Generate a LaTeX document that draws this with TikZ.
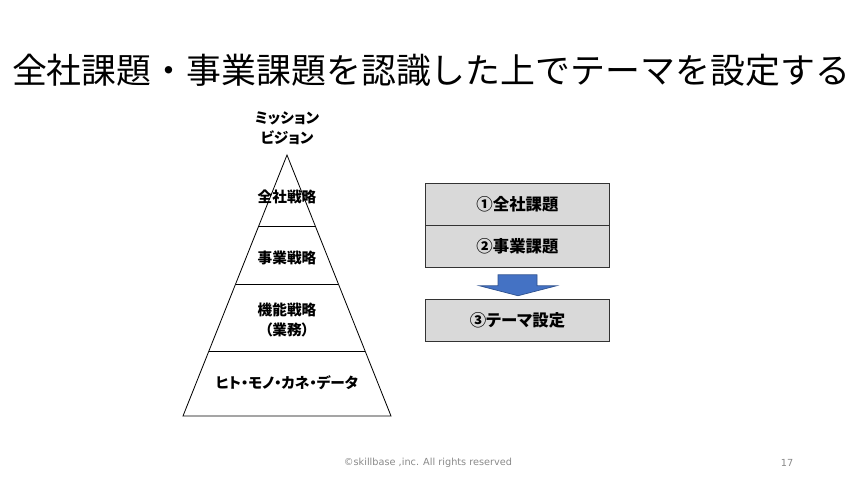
\documentclass[tikz,border=0pt]{standalone}
\usepackage{fontspec}
\setmainfont{Noto Sans CJK JP}[RawFeature=+palt]
\newfontfamily\titlefont{Noto Sans CJK JP}
\newfontfamily\footfont{DejaVu Sans}
\usetikzlibrary{positioning, calc}
\definecolor{boxgray}{RGB}{217, 217, 217}
\definecolor{arrowblue}{RGB}{68, 114, 196}
\definecolor{arrowedge}{RGB}{47, 82, 143}
\definecolor{footgray}{RGB}{137, 137, 137}

\tikzset{
  layer/.style={font=\fontsize{12.5}{17}\selectfont\bfseries, align=center, inner sep=0pt},
  kadaibox/.style={draw=black!80, fill=boxgray, line width=0.6pt, minimum width=157.3pt, minimum height=35.7pt, inner sep=0pt, font=\fontsize{14}{16}\selectfont\bfseries},
  blockarrow/.style={fill=arrowblue, draw=arrowedge, line width=0.6pt},
  footnote/.style={font=\footfont\fontsize{8.3}{10}\selectfont, text=footgray, inner sep=0pt}
}

\begin{document}
\begin{tikzpicture}[x=0.03cm, y=-0.03cm]
  \useasboundingbox (0,0) rectangle (860,483);

  % Title
  \node[font=\titlefont\fontsize{29.8}{32}\selectfont, inner sep=0pt] (title) at (431,70) {全社課題・事業課題を認識した上でテーマを設定する};

  % Pyramid
  \node[layer] (mission) at (287,128) {ミッション\\ビジョン};
  \coordinate (apex) at (287,155);
  \coordinate (bl) at (183,416);
  \coordinate (br) at (391,416);
  \draw[line width=0.7pt] (apex) -- (bl) -- (br) -- cycle;
  \draw[line width=0.7pt] ($(apex)!0.272!(bl)$) -- ($(apex)!0.272!(br)$);
  \draw[line width=0.7pt] ($(apex)!0.494!(bl)$) -- ($(apex)!0.494!(br)$);
  \draw[line width=0.7pt] ($(apex)!0.751!(bl)$) -- ($(apex)!0.751!(br)$);

  \node[layer] (zensha) at (287,197) {全社戦略};
  \node[layer] (jigyo) at (287,258) {事業戦略};
  \node[layer] (kino) at (287,320) {機能戦略\\（業務）};
  \node[layer] (resource) at (287,383) {ヒト・モノ・カネ・データ};

  % Issues and theme
  \node[kadaibox] (kadai1) at (517.5,204) {①全社課題};
  \node[kadaibox, below=0pt of kadai1] (kadai2) {②事業課題};
  \node[kadaibox] (theme) at (517.5,320) {③テーマ設定};

  \draw[blockarrow] ($(kadai2.south)+(-19.5,7)$) -- ++(39,0) -- ++(0,11) -- ++(19.5,0)
    -- ($(theme.north)+(0.5,-3)$) -- ($(kadai2.south)+(-38,18)$) -- ++(18.5,0) -- cycle;

  % Footer
  \node[footnote] (copyright) at (428,463) {©skillbase ,inc. All rights reserved};
  \node[footnote] (pageno) at (787,463) {17};
\end{tikzpicture}
\end{document}
